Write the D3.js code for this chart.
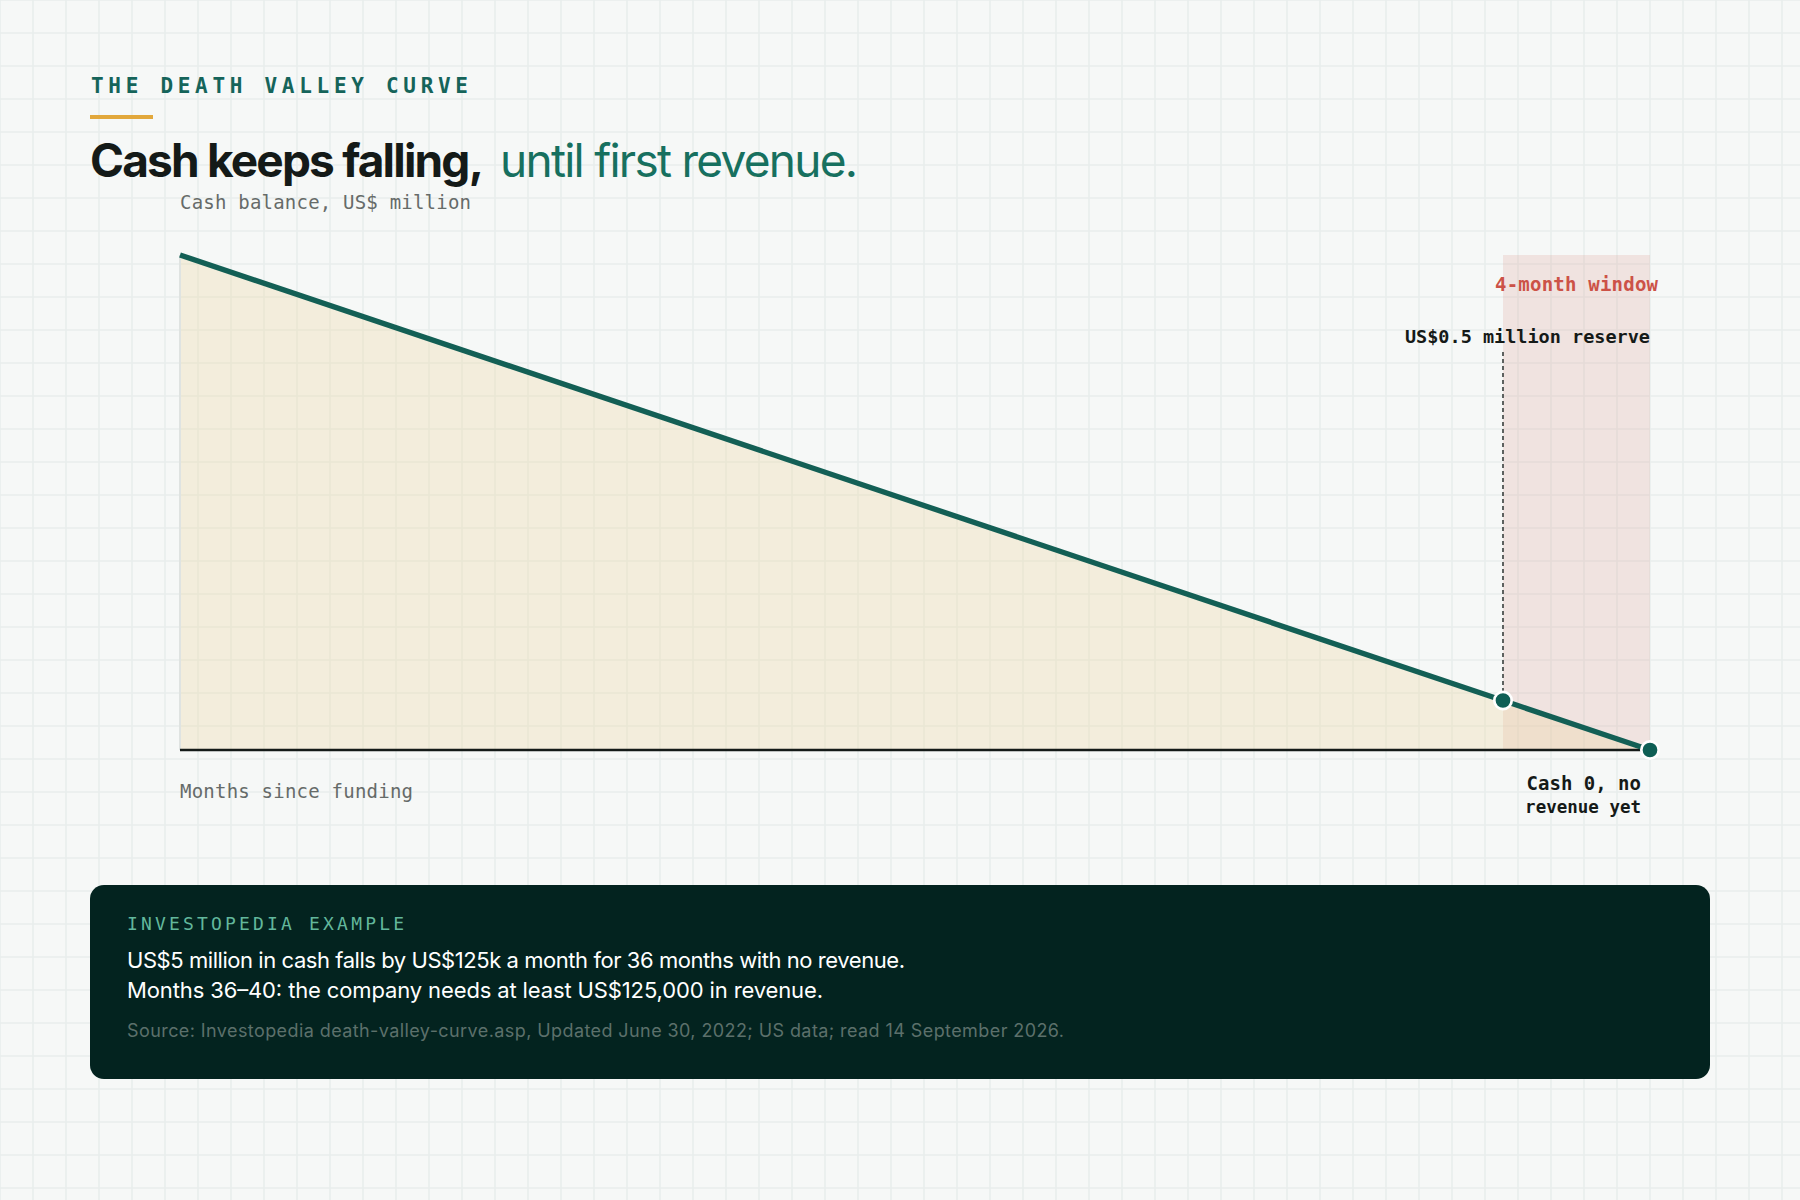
<!DOCTYPE html>
<html>
<head>
<meta charset="utf-8">
<script src="https://cdn.jsdelivr.net/npm/d3@7"></script>
<style>
  html, body { margin: 0; padding: 0; background: #f6f8f7; }
  svg { display: block; }
  .mono { font-family: "DejaVu Sans Mono", "Liberation Mono", monospace; }
  .sans { font-family: Inter, "Open Sans", Lato, sans-serif; }
</style>
</head>
<body>
<svg id="chart" width="1800" height="1200"></svg>
<script>
// ---- data ----
const months = [0, 36, 40];
const cashMillions = [5, 0.5, 0];
const monthDomain = [0, 40];
const cashDomain = [0, 5];
const windowMonths = [36, 40];
const reserveMonth = 36;

const kicker = "THE DEATH VALLEY CURVE";
const titleBold = "Cash keeps falling,";
const titleLight = "until first revenue.";
const yLabel = "Cash balance, US$ million";
const xLabel = "Months since funding";
const windowLabel = "4-month window";
const reserveLabel = "US$0.5 million reserve";
const endLabel = ["Cash 0, no", "revenue yet"];
const boxKicker = "INVESTOPEDIA EXAMPLE";
const boxLines = [
  "US$5 million in cash falls by US$125k a month for 36 months with no revenue.",
  "Months 36\u201340: the company needs at least US$125,000 in revenue."
];
const sourceLine = "Source: Investopedia death-valley-curve.asp, Updated June 30, 2022; US data; read 14 September 2026.";

const points = months.map((m, i) => ({ m, v: cashMillions[i] }));

// ---- layout ----
const W = 1800, H = 1200;
const svg = d3.select("#chart");

// background grid
const grid = svg.append("g");
grid.append("rect").attr("width", W).attr("height", H).attr("fill", "#f6f8f7");
const step = 33;
grid.selectAll("line.v").data(d3.range(0, W + 1, step)).join("line")
  .attr("x1", d => d).attr("x2", d => d).attr("y1", 0).attr("y2", H)
  .attr("stroke", "#e9eeec").attr("stroke-width", 1.6);
grid.selectAll("line.h").data(d3.range(0, H + 1, step)).join("line")
  .attr("y1", d => d).attr("y2", d => d).attr("x1", 0).attr("x2", W)
  .attr("stroke", "#e9eeec").attr("stroke-width", 1.6);

// header
svg.append("text").attr("class", "mono").attr("x", 91).attr("y", 92.5)
  .attr("font-size", 21).attr("font-weight", 700).attr("fill", "#15645a")
  .attr("textLength", 377).attr("lengthAdjust", "spacing").text(kicker);
svg.append("rect").attr("x", 90).attr("y", 115).attr("width", 63).attr("height", 4).attr("fill", "#e2a83c");
svg.append("text").attr("class", "sans").attr("x", 90).attr("y", 177)
  .attr("font-size", 46).attr("font-weight", 700).attr("fill", "#141a18")
  .attr("textLength", 394).attr("lengthAdjust", "spacing").text(titleBold);
svg.append("text").attr("class", "sans").attr("x", 500).attr("y", 177)
  .attr("font-size", 46).attr("font-weight", 400).attr("fill", "#17705f")
  .attr("textLength", 358).attr("lengthAdjust", "spacing").text(titleLight);

// scales
const x = d3.scaleLinear().domain(monthDomain).range([180, 1650]);
const y = d3.scaleLinear().domain(cashDomain).range([750, 255]);

svg.append("text").attr("class", "mono").attr("x", x(0)).attr("y", 209)
  .attr("font-size", 19).attr("fill", "#666b69")
  .attr("textLength", 291).attr("lengthAdjust", "spacing").text(yLabel);

// window shading
svg.append("rect")
  .attr("x", x(windowMonths[0])).attr("width", x(windowMonths[1]) - x(windowMonths[0]))
  .attr("y", y(cashDomain[1])).attr("height", y(0) - y(cashDomain[1]))
  .attr("fill", "#d98a80").attr("fill-opacity", 0.19);

// area
const area = d3.area().x(d => x(d.m)).y0(y(0)).y1(d => y(d.v));
svg.append("path").datum(points).attr("d", area)
  .attr("fill", "#ecd9a8").attr("fill-opacity", 0.34);

// faint left axis
svg.append("line").attr("x1", x(0)).attr("x2", x(0)).attr("y1", y(cashDomain[1])).attr("y2", y(0))
  .attr("stroke", "#dfe3e1").attr("stroke-width", 2);

// baseline
svg.append("line").attr("x1", x(0)).attr("x2", x(monthDomain[1])).attr("y1", y(0)).attr("y2", y(0))
  .attr("stroke", "#141a18").attr("stroke-width", 2.6);

// dashed reserve line
const reservePt = points.find(p => p.m === reserveMonth);
svg.append("line").attr("x1", x(reserveMonth)).attr("x2", x(reserveMonth))
  .attr("y1", 352).attr("y2", y(reservePt.v))
  .attr("stroke", "#4d5250").attr("stroke-width", 1.8).attr("stroke-dasharray", "4 3");

// line
const line = d3.line().x(d => x(d.m)).y(d => y(d.v));
svg.append("path").datum(points).attr("d", line)
  .attr("fill", "none").attr("stroke", "#135f55").attr("stroke-width", 5.4);

// dots
svg.selectAll("circle.pt").data(points.filter(p => p.m === reserveMonth || p.m === monthDomain[1])).join("circle")
  .attr("cx", d => x(d.m)).attr("cy", d => y(d.v)).attr("r", 8.7)
  .attr("fill", "#0f5f55").attr("stroke", "#ffffff").attr("stroke-width", 2.7);

// labels
svg.append("text").attr("class", "mono").attr("x", 1658).attr("y", 291)
  .attr("text-anchor", "end").attr("font-size", 19).attr("font-weight", 700).attr("fill", "#cc5247")
  .attr("textLength", 163).attr("lengthAdjust", "spacing")
  .text(windowLabel);
svg.append("text").attr("class", "mono").attr("x", x(monthDomain[1])).attr("y", 343)
  .attr("text-anchor", "end").attr("font-size", 18.5).attr("font-weight", 700).attr("fill", "#151a18")
  .text(reserveLabel);
svg.append("text").attr("class", "mono").attr("x", 1641).attr("y", 790)
  .attr("text-anchor", "end").attr("font-size", 19).attr("font-weight", 700).attr("fill", "#151a18")
  .text(endLabel[0]);
svg.append("text").attr("class", "mono").attr("x", 1641).attr("y", 813)
  .attr("text-anchor", "end").attr("font-size", 17.5).attr("font-weight", 700).attr("fill", "#151a18")
  .text(endLabel[1]);
svg.append("text").attr("class", "mono").attr("x", x(0)).attr("y", 798)
  .attr("font-size", 19).attr("fill", "#666b69")
  .attr("textLength", 233).attr("lengthAdjust", "spacing").text(xLabel);

// info box
svg.append("rect").attr("x", 90).attr("y", 885).attr("width", 1620).attr("height", 194)
  .attr("rx", 14).attr("fill", "#03231f");
svg.append("text").attr("class", "mono").attr("x", 127).attr("y", 930)
  .attr("font-size", 18).attr("fill", "#62b79c")
  .attr("textLength", 277).attr("lengthAdjust", "spacing").text(boxKicker);
svg.selectAll("text.boxline").data(boxLines).join("text")
  .attr("class", "sans").attr("x", 127).attr("y", (d, i) => 968 + i * 30)
  .attr("font-size", 22).attr("fill", "#ffffff")
  .attr("textLength", (d, i) => [778, 696][i]).attr("lengthAdjust", "spacing")
  .text(d => d);
svg.append("text").attr("class", "sans").attr("x", 127).attr("y", 1037)
  .attr("font-size", 18).attr("fill", "#5c706b")
  .attr("textLength", 937).attr("lengthAdjust", "spacing").text(sourceLine);
</script>
</body>
</html>
